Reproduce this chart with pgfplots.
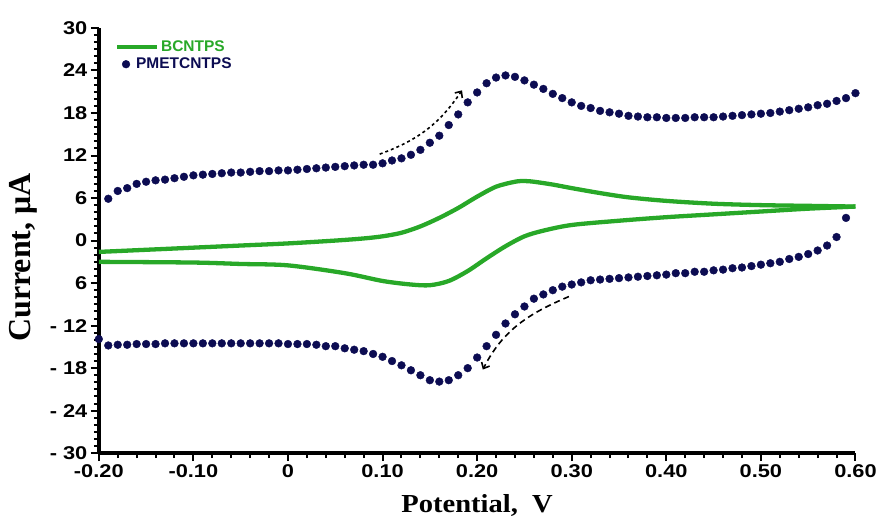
\documentclass[border=0pt]{standalone}
\usepackage{pgfplots}
\pgfplotsset{compat=1.18}
\usepackage{pgfplotstable}
\usetikzlibrary{arrows.meta}
\usepackage{fontspec}
\setmainfont{Liberation Sans}
\newfontfamily\tickf[FakeStretch=1.18]{Liberation Sans}
\newfontfamily\legf{Liberation Sans}
\newfontfamily\xlabf[FakeStretch=1.1]{Liberation Serif}
\newfontfamily\serifb{Liberation Serif}
\definecolor{cvgreen}{RGB}{40,168,40}
\definecolor{cvnavy}{RGB}{12,12,82}

\pgfplotstableread{
V I
-0.20 -1.6
-0.15 -1.3
-0.10 -1.0
-0.05 -0.7
0.00 -0.4
0.05 0.0
0.08 0.3
0.10 0.6
0.12 1.1
0.14 2.0
0.16 3.2
0.18 4.6
0.20 6.2
0.22 7.6
0.24 8.3
0.25 8.4
0.26 8.3
0.28 7.9
0.30 7.4
0.33 6.7
0.36 6.1
0.40 5.6
0.45 5.2
0.50 5.0
0.55 4.9
0.60 4.8
}\greenfwd

\pgfplotstableread{
V I
0.60 4.8
0.55 4.5
0.50 4.1
0.45 3.7
0.40 3.3
0.35 2.8
0.30 2.2
0.27 1.4
0.25 0.6
0.23 -0.8
0.21 -2.5
0.19 -4.3
0.17 -5.7
0.15 -6.3
0.13 -6.2
0.10 -5.7
0.06 -4.6
0.00 -3.5
-0.05 -3.3
-0.10 -3.1
-0.20 -3.0
}\greenrev

\pgfplotstableread{
V I
-0.19 5.9
-0.18 7.0
-0.17 7.4
-0.16 8.0
-0.15 8.3
-0.14 8.5
-0.13 8.6
-0.12 8.8
-0.11 9.0
-0.10 9.2
-0.09 9.3
-0.08 9.4
-0.07 9.5
-0.06 9.6
-0.05 9.6
-0.04 9.7
-0.03 9.8
-0.02 9.8
-0.01 9.9
0.00 9.9
0.01 10.0
0.02 10.1
0.03 10.2
0.04 10.3
0.05 10.4
0.06 10.5
0.07 10.6
0.08 10.7
0.09 10.7
0.10 10.9
0.11 11.3
0.12 11.6
0.13 12.1
0.14 12.8
0.15 13.8
0.16 14.8
0.17 16.3
0.18 17.8
0.19 19.5
0.20 20.9
0.21 22.2
0.22 23.0
0.23 23.3
0.24 23.1
0.25 22.6
0.26 22.0
0.27 21.4
0.28 20.7
0.29 20.1
0.30 19.5
0.31 19.0
0.32 18.7
0.33 18.3
0.34 18.1
0.35 17.9
0.36 17.6
0.37 17.5
0.38 17.4
0.39 17.4
0.40 17.3
0.41 17.3
0.42 17.3
0.43 17.4
0.44 17.4
0.45 17.4
0.46 17.5
0.47 17.6
0.48 17.7
0.49 17.8
0.50 17.9
0.51 18.0
0.52 18.2
0.53 18.4
0.54 18.6
0.55 18.8
0.56 19.1
0.57 19.3
0.58 19.7
0.59 20.1
0.60 20.8
0.59 3.2
0.58 0.5
0.57 -0.7
0.56 -1.4
0.55 -1.9
0.54 -2.3
0.53 -2.6
0.52 -3.0
0.51 -3.2
0.50 -3.4
0.49 -3.6
0.48 -3.8
0.47 -3.9
0.46 -4.1
0.45 -4.2
0.44 -4.4
0.43 -4.4
0.42 -4.6
0.41 -4.6
0.40 -4.8
0.39 -4.9
0.38 -5.0
0.37 -5.1
0.36 -5.2
0.35 -5.3
0.34 -5.4
0.33 -5.5
0.32 -5.6
0.31 -5.9
0.30 -6.2
0.29 -6.5
0.28 -7.0
0.27 -7.6
0.26 -8.2
0.25 -9.3
0.24 -10.4
0.23 -11.7
0.22 -13.3
0.21 -14.9
0.20 -16.5
0.19 -18.0
0.18 -19.0
0.17 -19.7
0.16 -19.9
0.15 -19.7
0.14 -19.0
0.13 -18.3
0.12 -17.6
0.11 -17.0
0.10 -16.4
0.09 -16.0
0.08 -15.6
0.07 -15.4
0.06 -15.2
0.05 -14.9
0.04 -14.9
0.03 -14.7
0.02 -14.6
0.01 -14.6
0.00 -14.6
-0.01 -14.5
-0.02 -14.5
-0.03 -14.5
-0.04 -14.5
-0.05 -14.5
-0.06 -14.5
-0.07 -14.5
-0.08 -14.5
-0.09 -14.5
-0.10 -14.5
-0.11 -14.5
-0.12 -14.5
-0.13 -14.5
-0.14 -14.6
-0.15 -14.6
-0.16 -14.6
-0.17 -14.7
-0.18 -14.7
-0.19 -14.8
-0.20 -13.9
}\navycv

\begin{document}
\begin{tikzpicture}
\begin{axis}[
  scale only axis, width=758pt, height=426pt,
  xmin=-0.2, xmax=0.6, ymin=-30, ymax=30,
  axis lines=left,
  axis line style={-, line width=3.5pt},
  xtick={-0.2,-0.1,0,0.1,0.2,0.3,0.4,0.5,0.6},
  xticklabels={-0.20,-0.10,0,0.10,0.20,0.30,0.40,0.50,0.60},
  ytick={-30,-24,-18,-12,-6,0,6,12,18,24,30},
  yticklabels={- 30,- 24,- 18,- 12,6,0,6,12,18,24,30},
  minor x tick num=4, minor y tick num=5,
  tick align=outside,
  major tick length=8pt, minor tick length=5pt,
  every tick/.style={black, line width=2pt},
  tick label style={font=\tickf\bfseries\fontsize{18.5}{22}\selectfont},
  xlabel={Potential,\ \ V},
  ylabel={Current,\ μA},
  xlabel style={font=\xlabf\bfseries\fontsize{26}{30}\selectfont, at={(axis description cs:0.5,-0.122)}, anchor=center},
  ylabel style={font=\serifb\bfseries\fontsize{32}{36}\selectfont, at={(axis description cs:-0.1,0.46)}, anchor=center},
  clip=false,
  legend cell align=left,
  legend style={at={(axis description cs:0.021,0.975)}, anchor=north west, draw=none, fill=none,
    inner sep=0pt, font=\legf\bfseries\fontsize{15.5}{18}\selectfont, row sep=1pt},
]
\addplot[cvgreen, line width=4.3pt, smooth, tension=0.5,
  legend image code/.code={\draw[cvgreen, line width=4.3pt] (0pt,0pt) -- (40pt,0pt);}]
  table[x=V,y=I] {\greenfwd};
\addlegendentry{\textcolor{cvgreen}{BCNTPS}}
\addplot[cvgreen, line width=4.3pt, smooth, tension=0.5, forget plot] table[x=V,y=I] {\greenrev};
\addplot[only marks, mark=*, mark size=3.9pt, color=cvnavy,
  legend image code/.code={\draw[cvnavy, only marks, mark=*, mark size=3.9pt] plot coordinates {(9pt,0pt)};}]
  table[x=V,y=I] {\navycv};
\addlegendentry{\hspace*{-25pt}\textcolor{cvnavy}{PMETCNTPS}}
\draw[-{Straight Barb[length=5pt,width=9pt]}, line width=1.6pt, dash pattern=on 3pt off 3pt]
  (axis cs:0.097,12.2) to[out=20,in=236] (axis cs:0.184,21.2);
\draw[-{Straight Barb[length=5pt,width=9pt]}, line width=1.6pt, dash pattern=on 6pt off 4pt]
  (axis cs:0.297,-7.9) to[out=203,in=63] (axis cs:0.206,-18.2);
\end{axis}
\path[use as bounding box] (-99pt,-76pt) rectangle (781pt,454pt);
\end{tikzpicture}
\end{document}
